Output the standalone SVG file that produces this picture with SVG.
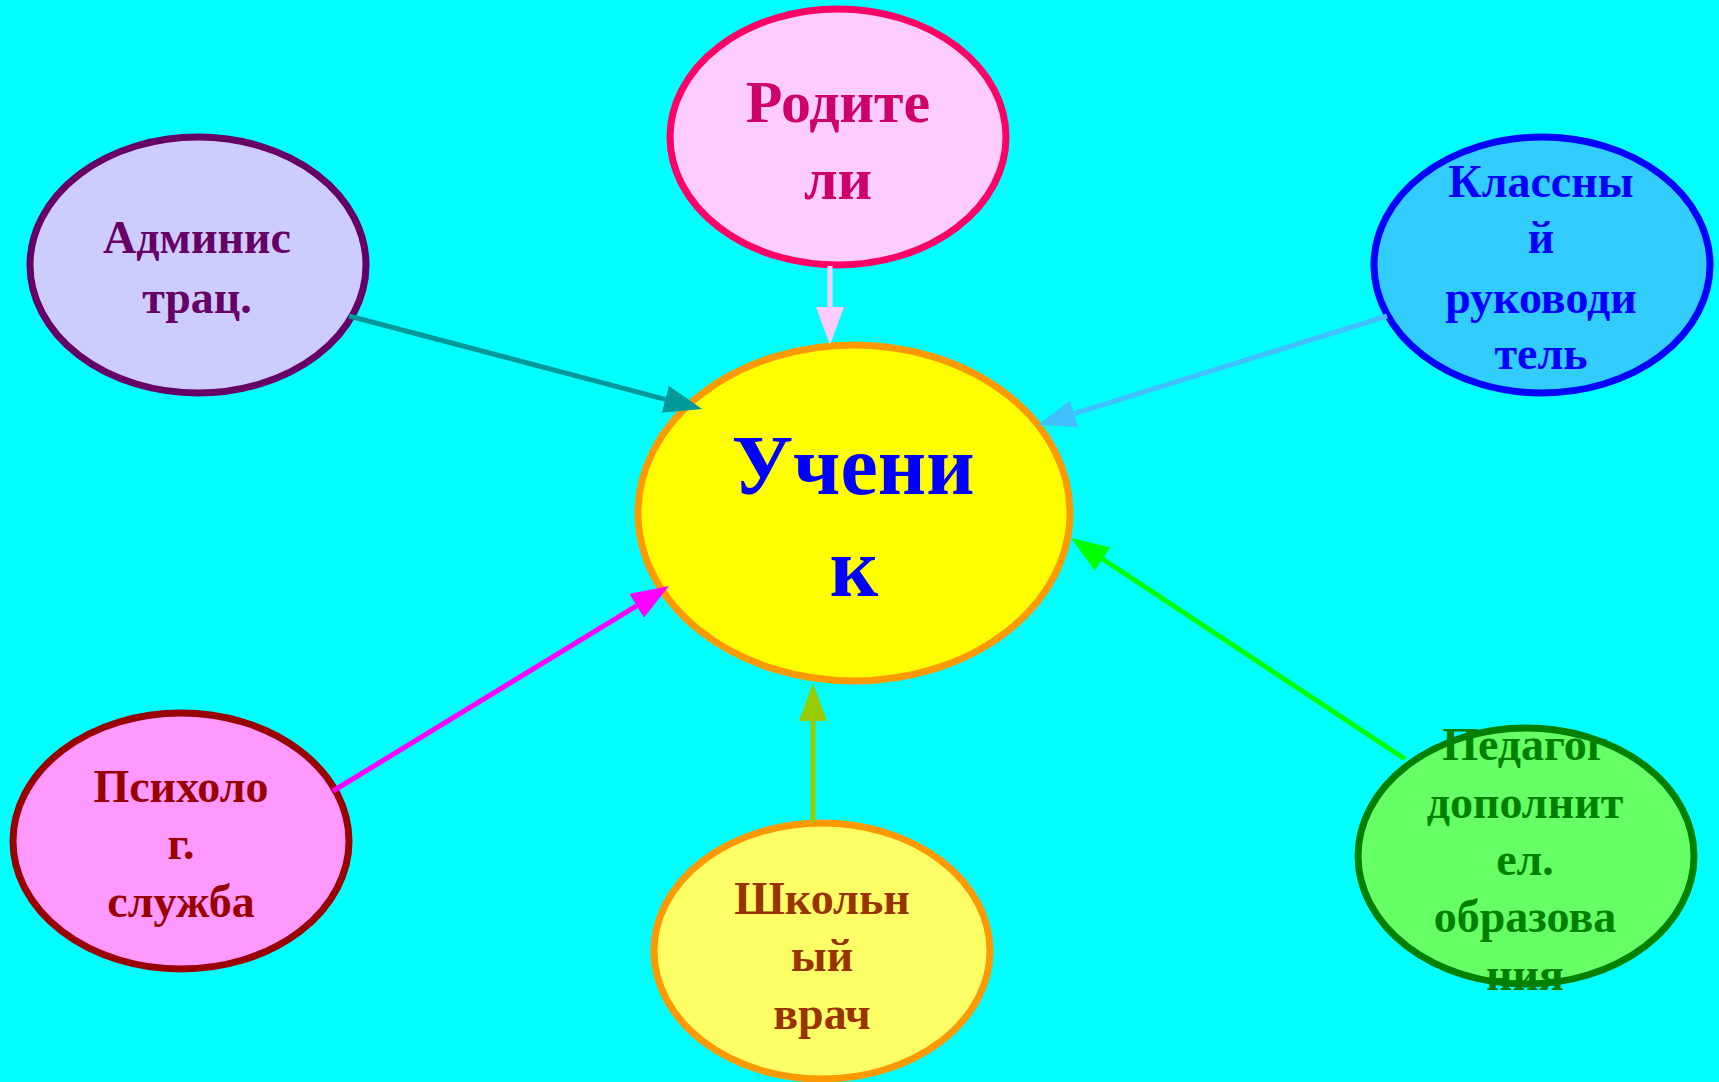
<svg xmlns="http://www.w3.org/2000/svg" width="1719" height="1082" viewBox="0 0 1719 1082">
<style>
  .node { stroke-width: 7; }
  .lbl { font-family: "Liberation Serif", "DejaVu Serif", serif; font-weight: bold; text-anchor: middle; }
  .s46 { font-size: 46px; }
  .conn { stroke-width: 5; fill: none; }
</style>
<defs>
  <marker id="a-pink" markerUnits="userSpaceOnUse" markerWidth="38" markerHeight="28" refX="0" refY="14" orient="auto"><path d="M0,0 L38,14 L0,28 Z" fill="#FFCCFF"/></marker>
  <marker id="a-teal" markerUnits="userSpaceOnUse" markerWidth="38" markerHeight="28" refX="0" refY="14" orient="auto"><path d="M0,0 L38,14 L0,28 Z" fill="#009999"/></marker>
  <marker id="a-sky" markerUnits="userSpaceOnUse" markerWidth="38" markerHeight="28" refX="0" refY="14" orient="auto"><path d="M0,0 L38,14 L0,28 Z" fill="#40C0FF"/></marker>
  <marker id="a-green" markerUnits="userSpaceOnUse" markerWidth="38" markerHeight="28" refX="0" refY="14" orient="auto"><path d="M0,0 L38,14 L0,28 Z" fill="#00FF00"/></marker>
  <marker id="a-mag" markerUnits="userSpaceOnUse" markerWidth="38" markerHeight="28" refX="0" refY="14" orient="auto"><path d="M0,0 L38,14 L0,28 Z" fill="#FF00FF"/></marker>
  <marker id="a-olive" markerUnits="userSpaceOnUse" markerWidth="38" markerHeight="28" refX="0" refY="14" orient="auto"><path d="M0,0 L38,14 L0,28 Z" fill="#99CC00"/></marker>
  <clipPath id="clipPed"><rect x="1300" y="700" width="419" height="290"/></clipPath>
</defs>
<rect x="0" y="0" width="1719" height="1082" fill="#00FFFF"/>

<g id="node-uchenik">
  <ellipse class="node" cx="854" cy="513" rx="216" ry="168" fill="#FFFF00" stroke="#FF9900"/>
  <text class="lbl" x="853" y="494" font-size="84" fill="#0000FF">Учени</text>
  <text class="lbl" x="854" y="596" font-size="84" fill="#0000FF">к</text>
</g>

<g id="node-roditeli">
  <ellipse class="node" cx="838" cy="137" rx="168" ry="128" fill="#FFCCFF" stroke="#FF0066"/>
  <text class="lbl" x="838" y="122" font-size="60" fill="#CC0066">Родите</text>
  <text class="lbl" x="838" y="199" font-size="60" fill="#CC0066">ли</text>
</g>

<g id="node-admin">
  <ellipse class="node" cx="198" cy="265" rx="168" ry="128" fill="#CCCCFF" stroke="#660066"/>
  <text class="lbl s46" x="197" y="253" fill="#660066">Админис</text>
  <text class="lbl s46" x="197" y="313" fill="#660066">трац.</text>
</g>

<g id="node-klassny">
  <ellipse class="node" cx="1542" cy="265" rx="168" ry="128" fill="#33CCFF" stroke="#0000FF"/>
  <text class="lbl s46" x="1541" y="197" fill="#0000FF">Классны</text>
  <text class="lbl s46" x="1541" y="253" fill="#0000FF">й</text>
  <text class="lbl s46" x="1541" y="313" fill="#0000FF">руководи</text>
  <text class="lbl s46" x="1541" y="369" fill="#0000FF">тель</text>
</g>

<g id="node-psiholog">
  <ellipse class="node" cx="181" cy="841" rx="168" ry="128" fill="#FF99FF" stroke="#990000"/>
  <text class="lbl s46" x="181" y="802" fill="#990000">Психоло</text>
  <text class="lbl s46" x="181" y="859" fill="#990000">г.</text>
  <text class="lbl s46" x="181" y="917" fill="#990000">служба</text>
</g>

<g id="node-vrach">
  <ellipse class="node" cx="822" cy="951" rx="168" ry="128" fill="#FFFF66" stroke="#FF9900"/>
  <text class="lbl s46" x="822" y="914" fill="#993300">Школьн</text>
  <text class="lbl s46" x="822" y="971" fill="#993300">ый</text>
  <text class="lbl s46" x="822" y="1029" fill="#993300">врач</text>
</g>

<g id="node-pedagog">
  <ellipse class="node" cx="1526" cy="856" rx="168" ry="128" fill="#66FF66" stroke="#008000"/>
  <g clip-path="url(#clipPed)">
    <text class="lbl s46" x="1525" y="760" fill="#008000">Педагог</text>
    <text class="lbl s46" x="1525" y="818" fill="#008000">дополнит</text>
    <text class="lbl s46" x="1525" y="875" fill="#008000">ел.</text>
    <text class="lbl s46" x="1525" y="932" fill="#008000">образова</text>
    <text class="lbl s46" x="1525" y="990" fill="#008000">ния</text>
  </g>
</g>

<g id="connectors">
  <line class="conn" x1="830" y1="266" x2="830" y2="307" stroke="#FFCCFF" stroke-width="6" marker-end="url(#a-pink)"/>
  <line class="conn" x1="349" y1="316" x2="665.3" y2="399.3" stroke="#009999" marker-end="url(#a-teal)"/>
  <line class="conn" x1="1387" y1="316" x2="1074.3" y2="413.7" stroke="#40C0FF" marker-end="url(#a-sky)"/>
  <line class="conn" x1="1405" y1="759" x2="1102.7" y2="559" stroke="#00FF00" marker-end="url(#a-green)"/>
  <line class="conn" x1="333" y1="791" x2="636.6" y2="605.8" stroke="#FF00FF" marker-end="url(#a-mag)"/>
  <line class="conn" x1="813" y1="822" x2="813" y2="721" stroke="#99CC00" marker-end="url(#a-olive)"/>
</g>
</svg>
